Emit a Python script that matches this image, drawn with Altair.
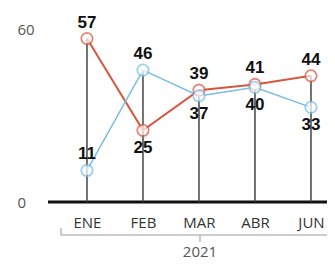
import altair as alt
import pandas as pd

months = ["ENE", "FEB", "MAR", "ABR", "JUN"]
red_values = [57, 25, 39, 41, 44]
blue_values = [11, 46, 37, 40, 33]
y_ticks = [0, 60]
year_label = "2021"

RED = "#d8563f"
BLUE = "#79bde6"

rows = []
for i, (m, r, b) in enumerate(zip(months, red_values, blue_values)):
    for s, v, o in (("red", r, b), ("blue", b, r)):
        above = v >= o or v < 15
        rows.append({"idx": i, "month": m, "series": s, "value": v, "pos": "above" if above else "below"})
df = pd.DataFrame(rows)
stems = pd.DataFrame({"idx": list(range(len(months))),
                      "value": [max(r, b) for r, b in zip(red_values, blue_values)]})

W, H = 279, 194
label_expr = "[" + ",".join(f"'{m}'" for m in months) + "][datum.value]"
xscale = alt.Scale(domain=[-0.696, 4.286], nice=False, zero=False)
xs = alt.X("idx:Q", scale=xscale,
           axis=alt.Axis(title=None, values=list(range(len(months))), labelExpr=label_expr,
                         labelFontSize=15, labelColor="#333", labelPadding=13,
                         ticks=False, domain=False, labelAngle=0, grid=False,
                         labelFont="Open Sans", labelFlush=False))
ys = alt.Y("value:Q", scale=alt.Scale(domain=[0, 67.67], nice=False),
           axis=alt.Axis(title=None, values=y_ticks, labelFontSize=15, labelColor="#555",
                         labelAlign="left", labelPadding=31, ticks=False, domain=False,
                         grid=False, labelFont="Open Sans"))

base = alt.Chart(df)
one = pd.DataFrame({"a": [0]})
baseline = alt.Chart(one).mark_rule(color="#111", strokeWidth=3).encode(
    x=alt.value(0), x2=alt.value(W), y=alt.value(H))
stem = alt.Chart(stems).mark_rule(color="#444", strokeWidth=1.5).encode(
    x=xs, y=ys, y2=alt.value(H))
line_red = base.transform_filter("datum.series=='red'").mark_line(color=RED, strokeWidth=2).encode(x=xs, y=ys)
line_blue = base.transform_filter("datum.series=='blue'").mark_line(color=BLUE, strokeWidth=1.5).encode(x=xs, y=ys)
pts = base.mark_point(shape="circle", size=130, filled=True, fill="white", strokeWidth=1.8).encode(
    x=xs, y=ys,
    stroke=alt.Color("series:N", scale=alt.Scale(domain=["red", "blue"], range=[RED, BLUE]), legend=None))
lab_above = base.transform_filter("datum.pos=='above'").mark_text(
    fontSize=17, fontWeight="bold", font="Liberation Sans", color="#111", dy=-16).encode(
    x=xs, y=ys, text="value:Q")
lab_below = base.transform_filter("datum.pos=='below'").mark_text(
    fontSize=17, fontWeight="bold", font="Liberation Sans", color="#111", dy=18).encode(
    x=xs, y=ys, text="value:Q")

bracket = alt.Chart(one).mark_rule(color="#999", strokeWidth=1).encode(
    x=alt.value(13), x2=alt.value(W), y=alt.value(H + 33))
btick1 = alt.Chart(one).mark_rule(color="#999", strokeWidth=1).encode(
    x=alt.value(13), y=alt.value(H + 26), y2=alt.value(H + 33))
btick2 = alt.Chart(one).mark_rule(color="#999", strokeWidth=1).encode(
    x=alt.value(152), y=alt.value(H + 33), y2=alt.value(H + 40))
year = alt.Chart(pd.DataFrame({"t": [year_label]})).mark_text(
    fontSize=15, color="#555", font="Open Sans", baseline="bottom").encode(
    x=alt.value(152), y=alt.value(H + 58), text="t:N")

chart = alt.layer(baseline, stem, line_red, line_blue, pts, lab_above, lab_below,
                  bracket, btick1, btick2, year).properties(
    width=W, height=H, padding={"left": 40, "top": 0, "right": 0, "bottom": 59},
    autosize=alt.AutoSizeParams(type="none"),
).configure(background="white", view=alt.ViewConfig(stroke=None))

chart.save("out.html", embed_options={"renderer": "svg", "actions": False})
